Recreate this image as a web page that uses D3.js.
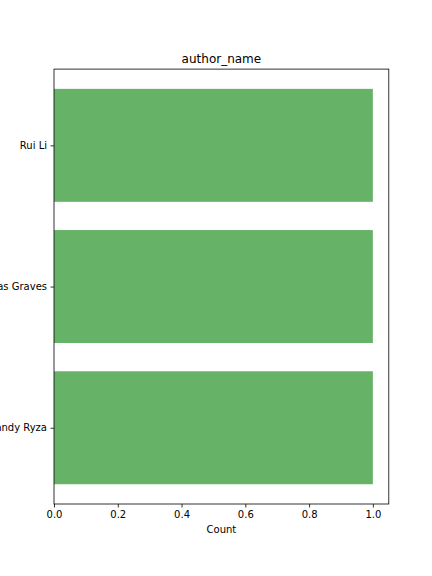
<!DOCTYPE html>
<html><head><meta charset="utf-8">
<script src="https://cdn.jsdelivr.net/npm/d3@7"></script>
<style>body{margin:0;background:#fff}svg{display:block}text{font-family:"DejaVu Sans",sans-serif}</style>
</head><body>
<script>
const categories = ["Rui Li", "Thomas Graves", "Sandy Ryza"];
const counts = [1, 1, 1];
const xTicks = [0, 0.2, 0.4, 0.6, 0.8, 1.0];
const title = "author_name";
const xLabel = "Count";

const W = 432, H = 576;
const m = {left: 54, right: 388.8, top: 69.1, bottom: 504};
const svg = d3.select("body").append("svg").attr("width", W).attr("height", H);

const x = d3.scaleLinear().domain([0, 1.05]).range([m.left, m.right]);
const y = d3.scaleLinear().domain([-0.54, 2.54]).range([m.top, m.bottom]);

svg.append("g").selectAll("rect").data(categories).join("rect")
  .attr("x", x(0))
  .attr("y", (d, i) => y(i - 0.4))
  .attr("width", (d, i) => x(counts[i]) - x(0))
  .attr("height", (d, i) => y(i + 0.4) - y(i - 0.4))
  .attr("fill", "#66b266");

const xAxis = d3.axisBottom(x).tickValues(xTicks).tickFormat(d3.format(".1f")).tickSize(3.5).tickPadding(3.5);
const gx = svg.append("g").attr("transform", `translate(0,${m.bottom})`).call(xAxis);
gx.select(".domain").remove();
gx.selectAll("text").attr("font-size", 10).attr("fill", "#000").style("font-family", "DejaVu Sans");
gx.selectAll("line").attr("stroke", "#000").attr("stroke-width", 0.8);

const yAxis = d3.axisLeft(y).tickValues(categories.map((d, i) => i)).tickFormat(i => categories[i]).tickSize(3.5).tickPadding(3.5);
const gy = svg.append("g").attr("transform", `translate(${m.left},0)`).call(yAxis);
gy.select(".domain").remove();
gy.selectAll("text").attr("font-size", 10).attr("fill", "#000").style("font-family", "DejaVu Sans");
gy.selectAll("line").attr("stroke", "#000").attr("stroke-width", 0.8);

svg.append("rect").attr("x", m.left).attr("y", m.top).attr("width", m.right - m.left).attr("height", m.bottom - m.top)
  .attr("fill", "none").attr("stroke", "#000").attr("stroke-width", 0.8);

svg.append("text").attr("x", (m.left + m.right) / 2).attr("y", m.top - 6).attr("text-anchor", "middle")
  .attr("font-size", 12).text(title);
svg.append("text").attr("x", (m.left + m.right) / 2).attr("y", 533).attr("text-anchor", "middle")
  .attr("font-size", 10).text(xLabel);
</script>
</body></html>
